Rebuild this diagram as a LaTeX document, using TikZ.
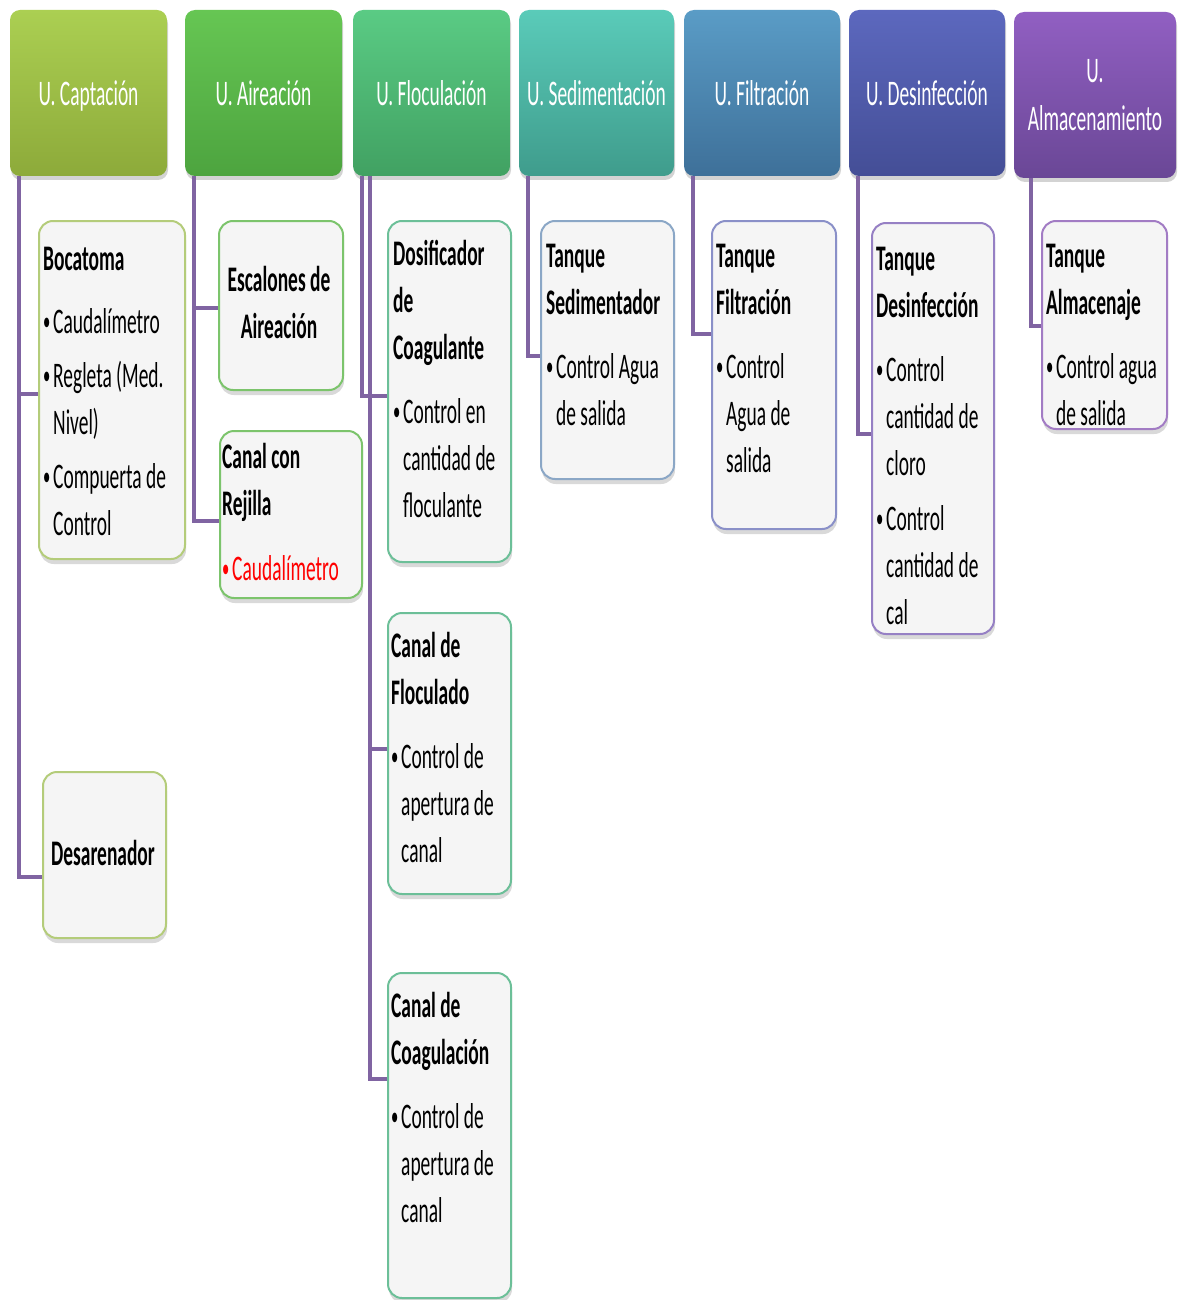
\documentclass[tikz,border=0pt]{standalone}
\usepackage{fontspec}
\setmainfont{Carlito}[FakeStretch=0.54]
\usetikzlibrary{shadows}
\definecolor{cpurple}{HTML}{8064A2}
\definecolor{boxfill}{HTML}{F5F5F5}
\definecolor{b1}{HTML}{B4CC7A}
\definecolor{b2}{HTML}{7CC46C}
\definecolor{b3}{HTML}{6CBF98}
\definecolor{b4}{HTML}{8BA7C6}
\definecolor{b5}{HTML}{8A90C8}
\definecolor{b6}{HTML}{9680C4}
\definecolor{b7}{HTML}{A27CC4}
\newcommand\bl{\makebox[10pt][l]{\raisebox{2.5pt}{\fontsize{27}{27}\selectfont •}}}
\newcommand\ind{\hspace*{10pt}}
\begin{document}
\begin{tikzpicture}[x=1pt,y=-1pt,
  hdr/.style={rounded corners=10pt, minimum width=157pt, minimum height=166pt, inner sep=0pt,
    text=white, font=\fontsize{36}{48}\selectfont, align=center,
    drop shadow={opacity=0.35, shadow xshift=1pt, shadow yshift=-4pt}},
  hone/.style={text height=26pt, text depth=0pt},
  cbox/.style={rounded corners=14pt, fill=boxfill, line width=2pt, anchor=north west, inner sep=0pt,
    drop shadow={opacity=0.3, shadow xshift=1pt, shadow yshift=-5pt}},
  txt/.style={inner sep=0pt, font=\fontsize{36}{47}\selectfont, text=black},
  conn/.style={draw=cpurple, line width=4.5pt}]
\useasboundingbox (0,0) rectangle (1181,1300);

% headers
\node[hdr, hone, top color={rgb,255:red,171;green,207;blue,82}, bottom color={rgb,255:red,141;green,170;blue,58},
  minimum width=157pt] (h1) at (88.5,93) {U. Captación};
\node[hdr, hone, top color={rgb,255:red,102;green,198;blue,83}, bottom color={rgb,255:red,77;green,164;blue,63}]
  (h2) at (263.5,93) {U. Aireación};
\node[hdr, hone, top color={rgb,255:red,90;green,203;blue,132}, bottom color={rgb,255:red,65;green,161;blue,98}]
  (h3) at (431.5,93) {U. Floculación};
\node[hdr, hone, minimum width=155pt, top color={rgb,255:red,90;green,203;blue,185}, bottom color={rgb,255:red,63;green,156;blue,140}]
  (h4) at (596.5,93) {U. Sedimentación};
\node[hdr, hone, minimum width=156pt, top color={rgb,255:red,90;green,156;blue,198}, bottom color={rgb,255:red,62;green,112;blue,153}]
  (h5) at (762,93) {U. Filtración};
\node[hdr, hone, minimum width=156pt, top color={rgb,255:red,92;green,104;blue,190}, bottom color={rgb,255:red,68;green,78;blue,150}]
  (h6) at (927,93) {U. Desinfección};
\node[hdr, minimum width=162pt, top color={rgb,255:red,145;green,95;blue,194}, bottom color={rgb,255:red,106;green,71;blue,150}]
  (h7) at (1095,95) {U.\\Almacenamiento};

% child boxes
\node[cbox, draw=b1, minimum width=146pt, minimum height=338pt] (c1) at (38,220) {};
\node[cbox, draw=b1, minimum width=123pt, minimum height=166pt] (c2) at (42,771) {};
\node[cbox, draw=b2, minimum width=124pt, minimum height=169pt] (c3) at (218,220) {};
\node[cbox, draw=b2, minimum width=142pt, minimum height=167pt] (c4) at (219,430) {};
\node[cbox, draw=b3, minimum width=123pt, minimum height=341pt] (c5) at (387,220) {};
\node[cbox, draw=b3, minimum width=123pt, minimum height=281pt] (c6) at (387,612) {};
\node[cbox, draw=b3, minimum width=123pt, minimum height=325pt] (c7) at (387,972) {};
\node[cbox, draw=b4, minimum width=133pt, minimum height=258pt] (c8) at (540,220) {};
\node[cbox, draw=b5, minimum width=124pt, minimum height=308pt] (c9) at (711,220) {};
\node[cbox, draw=b6, minimum width=122pt, minimum height=411pt] (c10) at (871,222) {};
\node[cbox, draw=b7, minimum width=125pt, minimum height=208pt] (c11) at (1041,220) {};

% texts
\node[txt, anchor=base west] (t1) at (43,270) {\begin{tabular}[t]{@{}l@{}}\textbf{Bocatoma}\\[16pt]
  \bl Caudalímetro\\[7pt] \bl Regleta (Med.\\ \ind Nivel)\\[7pt] \bl Compuerta de\\ \ind Control\end{tabular}};
\node[txt, anchor=base] (t2) at (103,865) {\textbf{Desarenador}};
\node[txt, anchor=base] (t3) at (279,291) {\begin{tabular}[t]{@{}c@{}}\textbf{Escalones de}\\ \textbf{Aireación}\end{tabular}};
\node[txt, anchor=base west] (t4) at (222,468) {\begin{tabular}[t]{@{}l@{}}\textbf{Canal con}\\ \textbf{Rejilla}\\[18pt]
  \textcolor{red}{\bl Caudalímetro}\end{tabular}};
\node[txt, anchor=base west] (t5) at (393,265) {\begin{tabular}[t]{@{}l@{}}\textbf{Dosificador}\\ \textbf{de}\\ \textbf{Coagulante}\\[17pt]
  \bl Control en\\ \ind cantidad de\\ \ind floculante\end{tabular}};
\node[txt, anchor=base west] (t6) at (391,657) {\begin{tabular}[t]{@{}l@{}}\textbf{Canal de}\\ \textbf{Floculado}\\[17pt]
  \bl Control de\\ \ind apertura de\\ \ind canal\end{tabular}};
\node[txt, anchor=base west] (t7) at (391,1017) {\begin{tabular}[t]{@{}l@{}}\textbf{Canal de}\\ \textbf{Coagulación}\\[17pt]
  \bl Control de\\ \ind apertura de\\ \ind canal\end{tabular}};
\node[txt, anchor=base west] (t8) at (546,267) {\begin{tabular}[t]{@{}l@{}}\textbf{Tanque}\\ \textbf{Sedimentador}\\[17pt]
  \bl Control Agua\\ \ind de salida\end{tabular}};
\node[txt, anchor=base west] (t9) at (716,267) {\begin{tabular}[t]{@{}l@{}}\textbf{Tanque}\\ \textbf{Filtración}\\[17pt]
  \bl Control\\ \ind Agua de\\ \ind salida\end{tabular}};
\node[txt, anchor=base west] (t10) at (876,270) {\begin{tabular}[t]{@{}l@{}}\textbf{Tanque}\\ \textbf{Desinfección}\\[17pt]
  \bl Control\\ \ind cantidad de\\ \ind cloro\\[8pt] \bl Control\\ \ind cantidad de\\ \ind cal\end{tabular}};
\node[txt, anchor=base west] (t11) at (1046,267) {\begin{tabular}[t]{@{}l@{}}\textbf{Tanque}\\ \textbf{Almacenaje}\\[17pt]
  \bl Control agua\\ \ind de salida\end{tabular}};

% connectors
\draw[conn] ([xshift=9pt]h1.south west) |- ([yshift=-4pt]c1.west);
\draw[conn] ([xshift=9pt]h1.south west) |- ([yshift=-22pt]c2.west);
\draw[conn] ([xshift=9pt]h2.south west) |- ([yshift=-2.5pt]c3.west);
\draw[conn] ([xshift=9pt]h2.south west) |- ([yshift=-6.5pt]c4.west);
\draw[conn] ([xshift=9pt]h3.south west) |- ([yshift=-4.5pt]c5.west);
\draw[conn] ([xshift=17pt]h3.south west) |- ([yshift=4.5pt]c6.west);
\draw[conn] ([xshift=17pt]h3.south west) |- ([yshift=56.5pt]c7.west);
\draw[conn] ([xshift=9pt]h4.south west) |- ([yshift=-6pt]c8.west);
\draw[conn] ([xshift=9pt]h5.south west) |- ([yshift=41pt]c9.west);
\draw[conn] ([xshift=9pt]h6.south west) |- ([yshift=-5.5pt]c10.west);
\draw[conn] ([xshift=17pt]h7.south west) |- ([yshift=-1pt]c11.west);
\end{tikzpicture}
\end{document}
